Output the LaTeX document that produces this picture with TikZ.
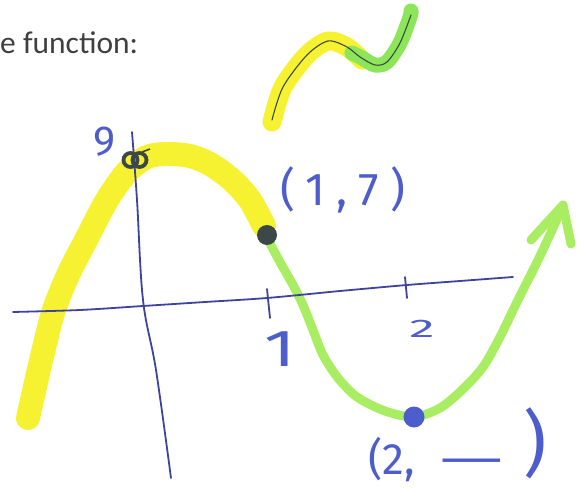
\documentclass[tikz,border=0pt]{standalone}
\usepackage{fontspec}
\usepackage{graphicx}
\newfontfamily\carlito{Carlito}
\newfontfamily\hand{Fira Sans}
\definecolor{hlyellow}{HTML}{F6F232}
\definecolor{hlgreen}{HTML}{A9EE62}
\definecolor{hlgreentwo}{HTML}{8DE65A}
\definecolor{ink}{HTML}{4D5ECC}
\definecolor{axisink}{HTML}{3E439E}
\definecolor{darkink}{HTML}{3C4848}
\definecolor{txtgray}{HTML}{404040}
\begin{document}
\begin{tikzpicture}[x=1pt,y=-1pt,
  yellowhl/.style={color=hlyellow,line cap=round,line join=round},
  greenhl/.style={color=hlgreen,line width=9pt,line cap=round,line join=round},
  pencil/.style={color=darkink,line width=1.1pt,line cap=round},
  axispen/.style={color=axisink,line width=1.8pt,line cap=round},
  handlbl/.style={text=ink,inner sep=0pt,font=\hand},
  inkdot/.style={circle,inner sep=0pt,minimum size=20pt}]
\useasboundingbox (0,0) rectangle (586,489);

% title text
\node[anchor=base west,inner sep=0pt,text=txtgray,font=\carlito\fontsize{31.5}{31.5}\selectfont] (title) at (0,54) {e function:};

% small sketch
\draw[yellowhl,line width=19pt] plot[smooth] coordinates {(272,122) (283,87) (307,55) (328,41) (347,47) (362,60)};
\draw[color=hlgreentwo,line width=15pt,line cap=round,line join=round] plot[smooth] coordinates {(352,53) (362,58) (375,65) (387,62) (400,43) (410,17) (411,11)};
\draw[pencil] plot[smooth] coordinates {(272,120) (283,87) (307,55) (328,41) (347,47) (360,57) (375,65) (387,62) (400,43) (411,15)};

% main highlighted curve
\draw[yellowhl,line width=24pt] plot[smooth] coordinates {(28,418) (40,365) (53,313) (68,275) (87,238) (107,200) (127,172) (147,157) (167,154) (190,156) (210,164) (232,180) (250,200) (264,226)};
\draw[greenhl] plot[smooth] coordinates {(266,236) (280,262) (293,285) (303,305) (313,330) (323,355) (338,378) (357,397) (385,411) (414,417) (440,408) (462,390) (483,367) (500,337) (517,302) (540,256) (563,206)};
\draw[greenhl] (531,240) -- (563,205) -- (571,244);

% axes
\draw[axispen] plot[smooth] coordinates {(13,312) (80,310) (143,306) (205,302) (267,298) (340,291) (407,285) (460,281) (513,277)};
\draw[axispen] plot[smooth,tension=0.6] coordinates {(132,132) (137,200) (143,300) (156,370) (171,478)};
\draw[axispen] (267,289) -- (270,318);
\draw[axispen] (405,277) -- (407,298);

% points
\draw[darkink,line width=3.8pt] (130.5,160) circle[radius=7pt] (139.5,160) circle[radius=7pt];
\draw[darkink,line width=1.6pt] (142,152) -- (150,149);
\node[inkdot,fill=darkink] (pa) at (267,235) {};
\node[inkdot,fill=ink,minimum size=21pt] (pb) at (414,417) {};

% labels
\node[handlbl,font=\hand\fontsize{42}{42}\selectfont] (nine) at (105,142) {9};
\node[handlbl,font=\hand\fontsize{46}{46}\selectfont\addfontfeature{LetterSpace=24}] (lblA) at (343,190) {(1,7)};
\node[handlbl,font=\hand\fontsize{52}{52}\selectfont] (one) at (280,349) {\scalebox{1.4}[1]{1}};
\node[handlbl,font=\hand\fontsize{30}{30}\selectfont] (two) at (422,329) {\scalebox{1.7}[0.85]{2}};
\node[handlbl,anchor=base west,font=\hand\fontsize{44}{44}\selectfont] (lblB) at (368,474) {(2,\hspace{26pt}\scalebox{1.8}[1]{—}\hspace{20pt}\raisebox{6pt}{\fontsize{72}{72}\selectfont )}};
\end{tikzpicture}
\end{document}
